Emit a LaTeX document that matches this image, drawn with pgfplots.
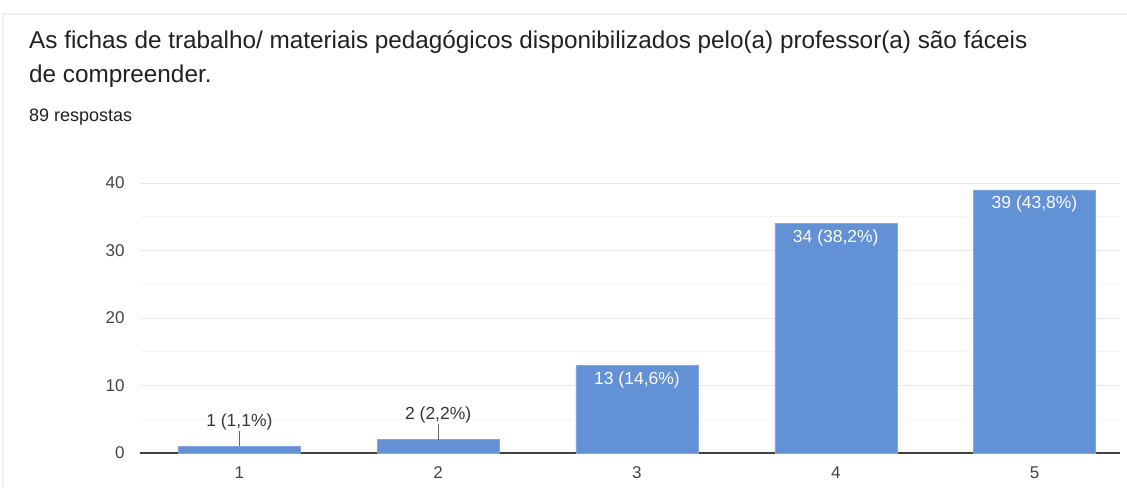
\documentclass[border=0pt]{standalone}
\usepackage{fontspec}
\setmainfont{Liberation Sans}
\usepackage{pgfplots}
\pgfplotsset{compat=1.18}
\definecolor{barblue}{RGB}{98,145,214}
\definecolor{titlecol}{RGB}{32,33,36}
\definecolor{tickcol}{RGB}{68,68,68}
\begin{document}
\begin{tikzpicture}[x=1pt,y=1pt]
\path[use as bounding box] (0,0) rectangle (1127,488);
\draw[black!6, line width=1.2pt] (3,0) -- (3,474) -- (1127,474);
\node[anchor=west, text=titlecol, font=\fontsize{24.3}{28}\selectfont, inner sep=0pt] at (29,446) {As fichas de trabalho/ materiais pedagógicos disponibilizados pelo(a) professor(a) são fáceis};
\node[anchor=west, text=titlecol, font=\fontsize{24.3}{28}\selectfont, inner sep=0pt] at (29,412) {de compreender.};
\node[anchor=west, text=titlecol, font=\fontsize{18}{21}\selectfont, inner sep=0pt] at (29,371) {89 respostas};
\begin{axis}[
  at={(140pt,35pt)}, anchor=south west,
  scale only axis, width=980pt, height=270pt,
  xmin=0.5, xmax=5.43, ymin=0, ymax=40,
  xtick={1,2,3,4,5}, ytick={0,10,20,30,40}, minor ytick={5,15,25,35},
  ymajorgrids, yminorgrids,
  major grid style={draw=black!9, line width=1pt},
  minor grid style={draw=black!4, line width=1pt},
  axis x line*=bottom, axis y line*=left,
  x axis line style={draw=black!75, line width=1.2pt, -},
  y axis line style={draw=none},
  major tick length=0pt, minor tick length=0pt,
  tick style={draw=none},
  ticklabel style={font=\fontsize{17}{20}\selectfont, text=tickcol},
  yticklabel style={xshift=-12pt},
  xticklabel style={yshift=-10pt},
  /pgf/number format/assume math mode=true,
  ybar, bar width=122pt,
  point meta=explicit symbolic,
  nodes near coords,
  clip=false,
]
\addplot[fill=barblue, draw=barblue!80!white, bar shift=0pt,
  every node near coord/.append style={anchor=south, yshift=13pt, text=tickcol!80!black, font=\fontsize{17.5}{20}\selectfont}]
  coordinates {(1,1) [1 (1,1\%)] (2,2) [2 (2,2\%)]};
\addplot[fill=barblue, draw=barblue!80!white, bar shift=0pt,
  every node near coord/.append style={anchor=north, yshift=-3pt, text=white, font=\fontsize{17.5}{20}\selectfont}]
  coordinates {(3,13) [13 (14,6\%)] (4,34) [34 (38,2\%)] (5,39) [39 (43,8\%)]};
\draw[black!60, line width=0.8pt] (axis cs:1,1) -- (axis cs:1,3.3);
\draw[black!60, line width=0.8pt] (axis cs:2,2) -- (axis cs:2,4.3);
\end{axis}
\end{tikzpicture}
\end{document}
